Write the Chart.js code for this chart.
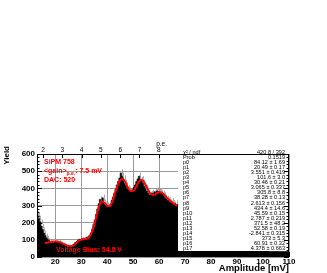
<!DOCTYPE html>
<html>
<head>
<meta charset="utf-8">
<script src="https://cdn.jsdelivr.net/npm/chart.js@4.4.1/dist/chart.umd.min.js"></script>
<style>
  html, body { margin: 0; padding: 0; background: #fff; }
  #wrap { width: 327px; height: 273px; }
</style>
</head>
<body>
<div id="wrap"><canvas id="c"></canvas></div>
<script>
// histogram: 0.5 mV bins from 13 to 68 mV
const binStart = 13, binWidth = 0.5;
const counts = [
  250, 240, 225, 205, 180, 160, 140, 125, 112, 100,
  95, 88, 85, 82, 88, 92, 86, 90, 84, 80,
  76, 72, 70, 66, 62, 64, 60, 66, 70, 76,
  84, 90, 98, 102, 100, 106, 104, 108, 110, 116,
  112, 126, 140, 162, 190, 215, 248, 280, 310, 336,
  322, 345, 318, 305, 300, 290, 296, 305, 330, 350,
  372, 395, 420, 440, 460, 490, 470, 455, 430, 415,
  398, 390, 382, 378, 392, 405, 420, 440, 455, 470,
  445, 450, 430, 412, 398, 385, 372, 360, 365, 372,
  368, 380, 376, 385, 382, 378, 372, 368, 358, 345,
  338, 330, 332, 318, 325, 315, 306, 312, 300, 305
];
// tail (hidden under the stats box), 2 mV bins from 68 to 110 mV
const tailStart = 68, tailWidth = 2;
const tailCounts = [290, 270, 250, 225, 200, 175, 150, 128, 108, 90, 75, 62, 52, 45, 40, 38, 36, 35, 34, 33, 32];

// fit curve
const fitX = [16,17,18,19,20,21,22,23,24,25,26,27,28,29,30,31,32,33,34,35,36,37,38,39,40,41,
  42,43,44,45,46,47,48,49,50,51,52,53,54,55,56,57,58,59,60,61,62,63,64,65,66,67];
const fitY = [80,84,87,89,90,89,85,78,70,64,63,68,80,93,101,104,106,115,140,185,245,300,324,315,298,296,
  325,370,415,448,455,435,405,385,385,405,435,450,440,415,385,365,362,370,378,375,362,345,330,318,308,300];

// p.e. scale on top axis
const peOffset = 0.44, peGain = 7.43, peLast = 8;

const statLabels = ["χ² / ndf","Prob","p0","p1","p2","p3","p4","p5","p6","p7","p8","p9",
  "p10","p11","p12","p13","p14","p15","p16","p17"];
const statValues = ["420.8 / 392","0.1519","84.12 ± 1.69","20.49 ± 0.17","3.551 ± 0.419","101.6 ± 3.0",
  "30.46 ± 0.21","3.065 ± 0.337","305.8 ± 8.8","38.28 ± 0.13","2.613 ± 0.156","434.4 ± 14.6",
  "45.59 ± 0.15","2.787 ± 0.219","371.5 ± 48.2","52.58 ± 0.19","-2.841 ± 0.315","373 ± 5.3",
  "60.91 ± 0.32","4.378 ± 0.663"];

const histPts = counts.map((c, i) => ({x: binStart + i * binWidth, y: c}));
tailCounts.forEach((c, i) => histPts.push({x: tailStart + i * tailWidth, y: c}));
histPts.push({x: 110, y: tailCounts[tailCounts.length - 1]});
const fitPts = fitX.map((x, i) => ({x, y: fitY[i]}));

const F = "'Liberation Sans', Arial, sans-serif";

// gray sqrt(N) error bars on the visible bins
const errorBars = {
  id: "errorBars",
  beforeDatasetsDraw(chart) {
    const ctx = chart.ctx, xs = chart.scales.x, ys = chart.scales.y;
    ctx.save();
    ctx.strokeStyle = "#888"; ctx.lineWidth = 0.7;
    counts.forEach((c, i) => {
      const px = Math.round(xs.getPixelForValue(binStart + (i + 0.5) * binWidth)) + 0.5;
      const e = Math.sqrt(c);
      ctx.beginPath();
      ctx.moveTo(px, ys.getPixelForValue(c - e));
      ctx.lineTo(px, ys.getPixelForValue(c + e));
      ctx.stroke();
    });
    ctx.restore();
  }
};

function inwardTicks(ctx, scale, vals, len, side, a) {
  vals.forEach(v => {
    const p = Math.round(scale.getPixelForValue(v)) + 0.5;
    ctx.beginPath();
    if (side === "left") { ctx.moveTo(a.left, p); ctx.lineTo(a.left + len, p); }
    if (side === "right") { ctx.moveTo(a.right, p); ctx.lineTo(a.right - len, p); }
    if (side === "bottom") { ctx.moveTo(p, a.bottom); ctx.lineTo(p, a.bottom - len); }
    if (side === "top") { ctx.moveTo(p, a.top); ctx.lineTo(p, a.top + len); }
    ctx.stroke();
  });
}

const overlay = {
  id: "overlay",
  afterDatasetsDraw(chart) {
    const ctx = chart.ctx, a = chart.chartArea;
    const xs = chart.scales.x, ys = chart.scales.y, x2 = chart.scales.x2;
    ctx.save();
    // stats box
    ctx.fillStyle = "#fff";
    ctx.fillRect(178, 140, a.right - 178, 111);
    // frame and ticks
    ctx.strokeStyle = "#000"; ctx.lineWidth = 1;
    ctx.strokeRect(a.left + 0.5, a.top + 0.5, a.right - a.left - 1, a.bottom - a.top - 1);
    const yMaj = ys.ticks.map(t => t.value);
    const yMin = [];
    for (let i = 0; i < yMaj.length - 1; i++) for (let k = 1; k < 5; k++) yMin.push(yMaj[i] + (yMaj[i + 1] - yMaj[i]) * k / 5);
    inwardTicks(ctx, ys, yMaj, 5, "left", a);
    inwardTicks(ctx, ys, yMin, 2.5, "left", a);
    inwardTicks(ctx, ys, yMaj, 5, "right", a);
    inwardTicks(ctx, ys, yMin, 2.5, "right", a);
    const xMaj = xs.ticks.map(t => t.value);
    const xMin = [];
    for (let i = 0; i < xMaj.length - 1; i++) for (let k = 1; k < 5; k++) xMin.push(xMaj[i] + 2 * k);
    inwardTicks(ctx, xs, xMaj, 5, "bottom", a);
    inwardTicks(ctx, xs, xMin, 2.5, "bottom", a);
    inwardTicks(ctx, x2, x2.ticks.map(t => t.value).filter(v => v <= peLast), 4, "top", a);
    // stats text
    ctx.fillStyle = "#000";
    ctx.font = `5.6px ${F}`;
    ctx.textBaseline = "middle";
    statLabels.forEach((l, i) => {
      const y = 152 + i * 5.1;
      ctx.textAlign = "left"; ctx.fillText(l, 183, y);
      ctx.textAlign = "right"; ctx.fillText(statValues[i], 285, y);
    });
    // red notes
    ctx.fillStyle = "#f00";
    ctx.textAlign = "left";
    ctx.font = `bold 7px ${F}`;
    ctx.fillText("SiPM 758", 44, 162);
    let x = 44;
    const g = "<gain>";
    ctx.fillText(g, x, 171.5); x += ctx.measureText(g).width;
    ctx.font = `bold 5px ${F}`;
    ctx.fillText("p.e.", x, 174); x += ctx.measureText("p.e.").width;
    ctx.font = `bold 7px ${F}`;
    ctx.fillText(": 7.5 mV", x, 171.5);
    ctx.fillText("DAC: 520", 44, 180);
    ctx.fillText("Voltage Bias: 54.8 V", 56, 250);
    // titles
    ctx.fillStyle = "#000";
    ctx.font = `bold 9.5px ${F}`;
    ctx.textAlign = "right";
    ctx.fillText("Amplitude [mV]", 289, 268.5);
    ctx.font = `6.5px ${F}`;
    ctx.fillText("p.e.", 167, 144);
    ctx.translate(7, 146);
    ctx.rotate(-Math.PI / 2);
    ctx.font = `bold 8px ${F}`;
    ctx.textAlign = "right";
    ctx.fillText("Yield", 0, 0);
    ctx.restore();
  }
};

new Chart(document.getElementById("c"), {
  type: "line",
  data: {
    datasets: [
      {data: fitPts, borderColor: "#ff0000", borderWidth: 2, pointRadius: 0, fill: false,
       tension: 0.4, cubicInterpolationMode: "monotone", order: 0},
      {data: histPts, stepped: "after", borderColor: "#000", borderWidth: 0.6, pointRadius: 0,
       fill: "origin", backgroundColor: "#000", order: 1},
    ],
  },
  options: {
    responsive: true, maintainAspectRatio: false, animation: false,
    layout: {padding: {top: 140, right: 38, left: 0, bottom: 0}},
    plugins: {legend: {display: false}, tooltip: {enabled: false}},
    scales: {
      x: {type: "linear", position: "bottom", min: 13, max: 110,
          ticks: {stepSize: 10, includeBounds: false, color: "#000", padding: 0,
                  font: {family: F, size: 8, weight: "bold"}, maxRotation: 0},
          grid: {color: "#999", borderDash: [1, 2], drawTicks: false},
          border: {display: false},
          afterFit: s => { s.height = 16; }},
      x2: {type: "linear", position: "top", axis: "x",
          min: (13 - peOffset) / peGain, max: (110 - peOffset) / peGain,
          ticks: {stepSize: 1, includeBounds: false, color: "#000", padding: 0,
                  font: {family: F, size: 6.5}, maxRotation: 0,
                  callback: v => (v <= peLast ? v : "")},
          grid: {drawOnChartArea: false, drawTicks: false},
          border: {display: false},
          afterFit: s => { s.height = 14; }},
      y: {min: 0, max: 600,
          ticks: {stepSize: 100, color: "#000", padding: 2,
                  font: {family: F, size: 8, weight: "bold"}},
          grid: {color: "#999", borderDash: [1, 2], drawTicks: false},
          border: {display: false},
          afterFit: s => { s.width = 37; }},
    },
  },
  plugins: [errorBars, overlay],
});
</script>
</body>
</html>
